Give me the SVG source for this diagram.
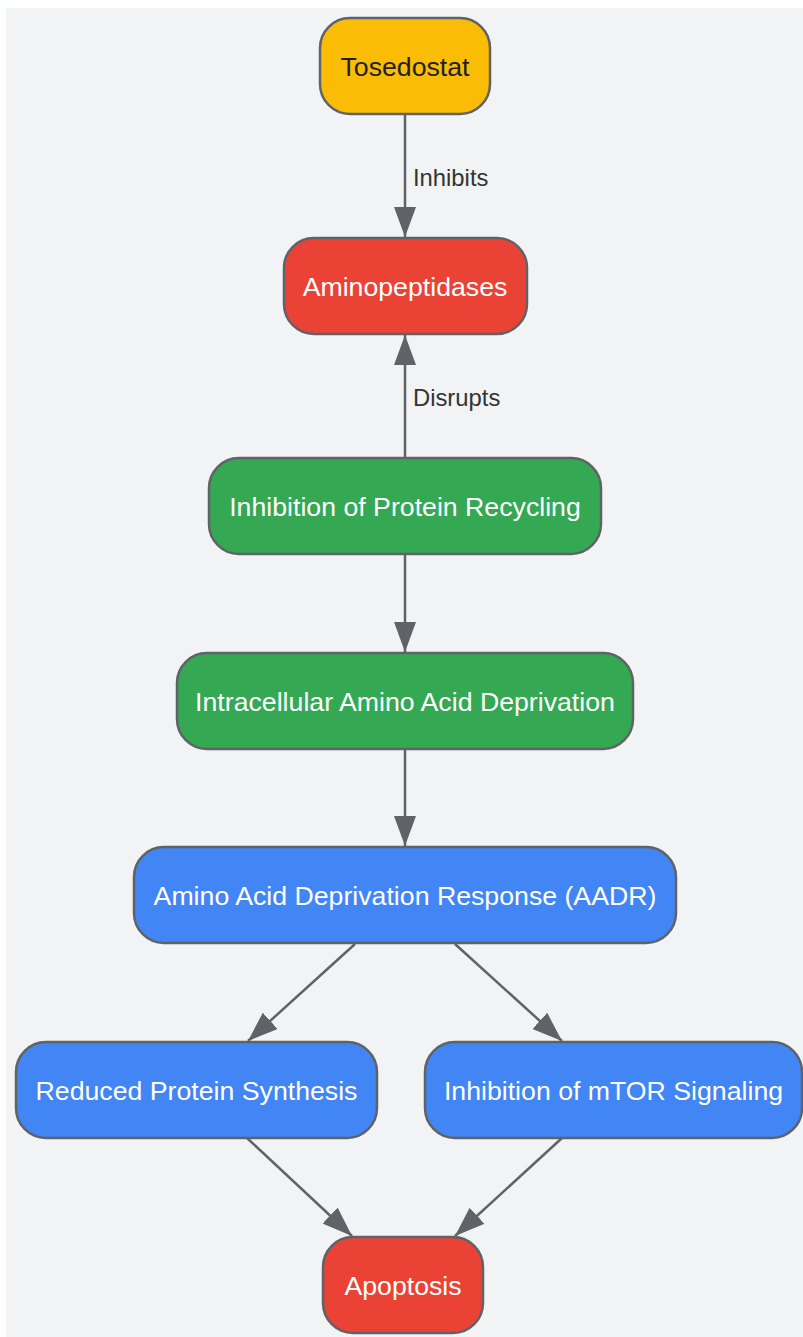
<svg xmlns="http://www.w3.org/2000/svg" width="803" height="1337" viewBox="0 0 803 1337">
<style>
.node rect{stroke:#5f6368;stroke-width:2.5}
.node text{font-family:"Liberation Sans",Arial,sans-serif;font-size:26.7px;text-anchor:middle}
.lt{fill:#ffffff}
.dt{fill:#202124}
.yellow{fill:#fbbc05}
.red{fill:#ea4335}
.green{fill:#34a853}
.blue{fill:#4285f4}
.edge{stroke:#5f6368;stroke-width:2.5;fill:none;marker-end:url(#arrow)}
.elabel{font-family:"Liberation Sans",Arial,sans-serif;font-size:23.8px;fill:#333333}
</style>
<defs>
<marker id="arrow" markerUnits="userSpaceOnUse" viewBox="0 0 30 22" refX="30" refY="11" markerWidth="30" markerHeight="22" orient="auto">
<path d="M0,0 L30,11 L0,22 z" fill="#5f6368"/>
</marker>
</defs>
<rect x="6" y="8" width="797" height="1329" fill="#f1f3f4"/>
<g id="connectors">
<line class="edge" x1="405" y1="114" x2="405" y2="237"/>
<text class="elabel" x="413" y="186">Inhibits</text>
<line class="edge" x1="405" y1="458" x2="405" y2="335"/>
<text class="elabel" x="413" y="406">Disrupts</text>
<line class="edge" x1="405" y1="554" x2="405" y2="652"/>
<line class="edge" x1="405" y1="749" x2="405" y2="846"/>
<line class="edge" x1="355" y1="944" x2="248" y2="1041"/>
<line class="edge" x1="455" y1="944" x2="562" y2="1041"/>
<line class="edge" x1="247" y1="1138" x2="352" y2="1236"/>
<line class="edge" x1="562" y1="1138" x2="455" y2="1236"/>
</g>
<g id="tosedostat" class="node">
<rect class="yellow" x="320" y="18" width="170" height="96" rx="30"/>
<text class="dt" x="405" y="76">Tosedostat</text>
</g>
<g id="aminopeptidases" class="node">
<rect class="red" x="284" y="238" width="243" height="96" rx="30"/>
<text class="lt" x="405" y="296">Aminopeptidases</text>
</g>
<g id="protein-recycling" class="node">
<rect class="green" x="209" y="458" width="392" height="96" rx="30"/>
<text class="lt" x="405" y="516">Inhibition of Protein Recycling</text>
</g>
<g id="amino-deprivation" class="node">
<rect class="green" x="177" y="653" width="456" height="96" rx="30"/>
<text class="lt" x="405" y="711">Intracellular Amino Acid Deprivation</text>
</g>
<g id="aadr" class="node">
<rect class="blue" x="134" y="847" width="542" height="96" rx="30"/>
<text class="lt" x="405" y="905">Amino Acid Deprivation Response (AADR)</text>
</g>
<g id="reduced-synthesis" class="node">
<rect class="blue" x="16" y="1042" width="361" height="96" rx="30"/>
<text class="lt" x="196.5" y="1100">Reduced Protein Synthesis</text>
</g>
<g id="mtor" class="node">
<rect class="blue" x="425" y="1042" width="377" height="96" rx="30"/>
<text class="lt" x="613.5" y="1100">Inhibition of mTOR Signaling</text>
</g>
<g id="apoptosis" class="node">
<rect class="red" x="323" y="1237" width="160" height="96" rx="30"/>
<text class="lt" x="403" y="1295">Apoptosis</text>
</g>
</svg>
